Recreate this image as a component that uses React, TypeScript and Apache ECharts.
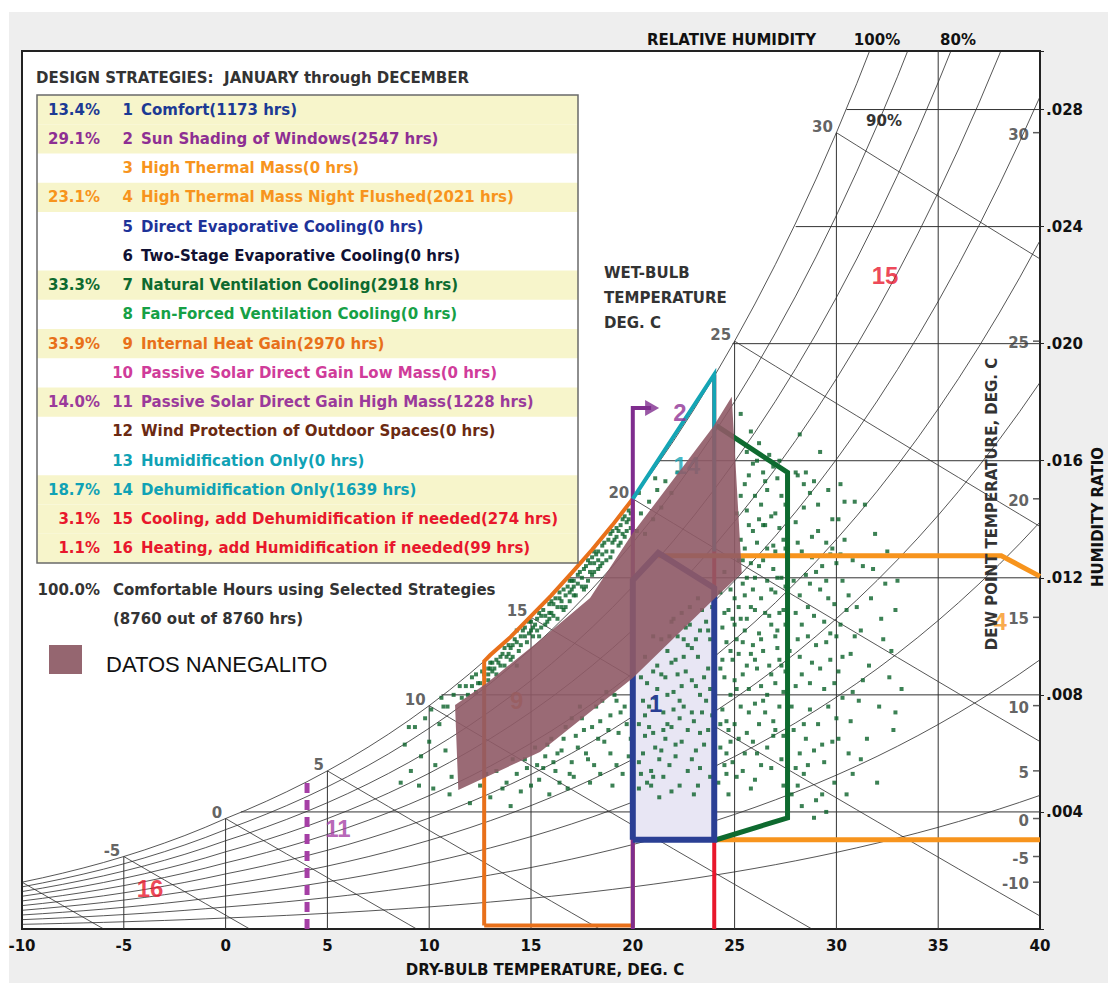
import { useEffect, useRef } from 'react';
import * as echarts from 'echarts';

// ---------- psychrometric grid (standard saturation table, kPa) ----------
const satTemps = [-10,-9,-8,-7,-6,-5,-4,-3,-2,-1,0,1,2,3,4,5,6,7,8,9,10,11,12,13,14,15,16,17,18,19,20,21,22,23,24,25,26,27,28,29,30,31,32,33,34,35,36,37,38,39,40];
const satPressureKPa = [0.2599,0.2839,0.3100,0.3382,0.3686,0.4018,0.4375,0.4763,0.5177,0.5627,0.6112,0.6571,0.7060,0.7581,0.8135,0.8726,0.9354,1.0021,1.0730,1.1482,1.2282,1.3129,1.4028,1.4981,1.5989,1.7057,1.8187,1.9383,2.0647,2.1982,2.3392,2.4881,2.6452,2.8109,2.9856,3.1697,3.3637,3.5679,3.7828,4.0089,4.2467,4.4966,4.7592,5.0351,5.3247,5.6286,5.9475,6.2818,6.6324,6.9997,7.3844];
const atmPressureKPa = 101.325;
const rhLevels = [0.1,0.2,0.3,0.4,0.5,0.6,0.7,0.8,0.9,1.0];
const wetBulbTemps = [-10,-5,0,5,10,15,20,25,30];
const wetBulbLabelTemps = [-5,0,5,10,15,20,25,30];
const dryBulbGridTemps = [-5,0,5,10,15,20,25,30,35];
const humidityGridValues = [4,8,12,16,20,24,28];
const humidityGridStartTemps = [0.75,10.6,16.8,21.2,24.9,28.0,30.5];
const dewPointTemps = [-10,-5,0,5,10,15,20,25,30];

// ---------- design strategy zones (T degC, W g/kg) ----------
const comfortT = [20, 20, 21.25, 24, 24];
const comfortW = [3.05, 11.92, 12.85, 11.65, 3.05];
const sunShadingPath = [[20, 0], [20, 17.8], [20.9, 17.8]];
const sunShadingArrow = [20.95, 17.8];
const internalGainPath = [[12.7, 0.12], [12.7, 9.15], [13, 9.36], [14, 9.98], [15, 10.69], [16, 11.4], [17, 12.17], [18, 12.96], [19, 13.8], [20, 14.7], [20, 0.12], [12.7, 0.12]];
const dehumidPath = [[20, 14.7], [24, 18.95], [24, 12.9]];
const coolingPath = [[24, 0], [24, 18.95]];
const naturalVentPath = [[24.1, 17.2], [27.6, 15.6], [27.6, 3.8], [24.1, 3.05]];
const thermalMassTopPath = [[21.25, 12.75], [38.1, 12.75], [40, 12.05]];
const thermalMassBottomPath = [[24, 3.05], [40, 3.05]];
const passiveSolarPath = [[4, 0], [4, 5.0]];

// ---------- climate overlay "DATOS NANEGALITO" ----------
const nanegalitoT = [11.43, 11.27, 12.82, 15.44, 17.90, 20.0, 23.94, 24.86, 25.35, 23.94, 20.0, 15.44];
const nanegalitoW = [4.75, 7.65, 8.40, 9.87, 11.31, 13.53, 17.15, 18.19, 12.16, 11.24, 8.58, 6.05];

// ---------- hourly weather points ----------
const hourlyPoints = [
  [8.8,6.3],[9.1,5.4],[9.3,6.9],[9.6,5.9],[9.8,7.2],[10.0,6.4],[10.1,7.5],[10.3,5.6],[10.5,7.0],[10.6,7.9],[10.8,6.1],[10.9,7.6],[11.1,5.2],[11.2,8.0],[9.0,6.9],[9.5,4.9],[10.2,4.8],[11.0,4.6],[11.5,8.3],[8.6,5.0],[10.7,7.6],
  [11.8,8.3],[12.1,8.6],[12.3,8.1],[12.6,8.8],[12.9,8.5],[13.1,9.1],[13.3,8.7],[13.5,9.3],[13.7,9.0],[13.9,9.7],[14.1,9.3],[14.2,9.9],[14.4,9.5],[14.6,10.2],[14.8,9.8],[15.0,10.5],[15.1,10.0],[15.3,10.6],[15.5,10.3],[15.6,10.9],[15.8,10.5],[16.0,11.2],[16.1,10.7],[16.3,11.0],[16.4,11.5],[16.6,10.9],[16.8,11.7],[16.9,11.2],[17.1,11.9],[17.2,11.4],[17.4,12.2],[17.5,11.7],[17.7,12.4],[17.8,11.9],[18.0,12.7],[18.1,12.2],[18.3,12.9],[18.4,12.4],[18.6,13.2],[18.7,12.6],[18.9,13.5],[19.0,12.9],[19.2,13.7],[19.3,13.1],[19.5,14.0],[19.6,13.4],[19.8,14.3],[19.9,13.7],[14.3,9.0],[15.4,10.0],[16.7,11.0],[17.6,11.6],[18.5,12.5],[19.4,13.2],[13.0,8.9],[12.4,8.4],[15.9,10.8],[17.0,11.6],[18.2,12.8],[19.7,13.9],
  [12.7,8.7],[12.9,8.9],[13.2,8.9],[13.4,9.1],[13.6,9.4],[13.8,9.3],[14.0,9.6],[14.3,9.8],[14.5,10.0],[14.7,10.3],[14.9,10.1],[15.2,10.4],[15.4,10.8],[15.7,10.7],[15.9,11.1],[16.2,11.3],[16.5,11.2],[16.6,11.6],[16.9,11.9],[17.1,11.7],[17.3,12.1],[17.6,12.3],[17.9,12.5],[18.1,12.9],[18.3,12.6],[18.5,13.1],[18.8,13.3],[19.0,13.6],[19.2,13.4],[19.4,13.8],[19.6,14.1],[19.8,14.0],
  [12.9,8.7],[13.1,8.8],[13.3,9.2],[13.5,9.0],[13.7,9.6],[13.9,9.4],[14.1,9.7],[14.3,10.2],[14.5,9.7],[14.7,10.0],[14.9,10.5],[15.1,10.3],[15.3,10.2],[15.5,10.7],[15.7,10.4],[15.9,10.6],[16.1,11.1],[16.3,10.6],[16.5,11.0],[16.7,11.4],[16.9,11.5],[17.1,11.4],[17.3,11.8],[17.5,12.0],[17.7,11.7],[17.9,12.2],[18.1,12.5],[18.3,12.3],[18.5,12.8],[18.7,12.9],[18.9,12.7],[19.1,13.3],[19.3,13.6],[19.5,13.5],[19.7,13.6],[19.9,14.2],[12.1,8.3],[12.3,8.7],[12.5,8.4],[11.9,8.0],[11.6,7.9],[13.0,9.1],[14.0,9.2],[15.0,10.2],[16.0,10.8],[17.0,11.9],[18.0,12.1],[19.0,13.2],[16.4,11.3],[17.8,12.6],
  [20.2,13.6],[20.4,14.2],[20.6,13.5],[20.8,14.6],[21.0,14.0],[21.2,15.0],[21.4,14.4],[21.6,15.3],[21.9,14.9],[22.2,15.6],[20.3,14.9],[21.1,15.4],
  [12.0,4.3],[12.5,4.9],[13.0,4.5],[13.3,5.4],[13.8,5.0],[14.1,5.8],[14.5,4.7],[14.8,5.5],[15.2,6.2],[15.4,5.1],[15.7,5.9],[16.0,6.5],[16.2,5.4],[16.5,6.1],[16.7,6.9],[17.0,5.7],[17.2,6.6],[17.5,7.2],[17.7,6.0],[18.0,6.9],[18.2,7.6],[18.4,5.3],[18.6,6.4],[18.9,7.3],[19.1,8.0],[19.3,6.7],[19.6,7.6],[19.8,5.9],[17.9,5.0],[16.8,4.8],[19.0,4.9],[15.9,4.6],[14.0,4.2],[18.7,8.1],[17.4,7.6],
  [12.8,5.3],[13.6,4.8],[14.3,5.3],[15.0,4.9],[15.6,5.5],[16.4,5.0],[17.1,5.2],[17.8,5.8],[18.3,6.5],[18.9,6.0],[19.5,5.3],[19.7,7.0],[19.2,7.8],[16.3,6.0],[14.7,5.8],
  [15.3,5.6],[15.8,6.3],[16.1,5.7],[16.6,6.5],[16.9,5.3],[17.3,6.2],[17.6,6.8],[18.1,5.6],[18.4,7.1],[18.8,6.8],[19.2,5.6],[19.4,7.4],[19.9,6.5],[17.0,7.2],[18.5,7.8],
  [20.3,4.8],[20.5,6.0],[20.6,7.3],[20.7,8.4],[20.9,5.4],[21.0,6.7],[21.1,7.9],[21.2,9.0],[21.3,4.5],[21.4,6.1],[21.5,7.4],[21.6,8.6],[21.7,9.5],[21.8,5.6],[21.9,6.9],[22.0,8.1],[22.1,9.2],[22.2,10.0],[22.3,4.9],[22.4,6.4],[22.5,7.6],[22.6,8.8],[22.7,9.7],[22.8,10.4],[22.9,5.8],[23.0,7.1],[23.1,8.3],[23.2,9.3],[23.3,10.2],[23.4,10.9],[23.5,6.3],[23.6,7.8],[23.7,8.9],[23.8,9.9],[23.9,11.0],[20.4,8.6],[20.8,6.9],[21.5,5.2],[22.1,5.9],[22.7,6.8],[23.3,5.5],[23.0,4.6],[22.5,9.9],[21.8,10.0],[23.6,10.5],[20.5,7.8],[21.2,8.2],[22.9,8.5],[23.4,7.4],[22.3,7.2],[21.7,7.0],[20.9,4.9],
  [20.6,9.3],[21.0,10.0],[21.4,9.9],[21.9,10.5],[22.4,10.8],[22.8,11.0],[23.2,11.3],[20.3,5.7],[20.7,5.0],[21.1,6.2],[21.6,6.5],[22.0,7.5],[22.4,8.3],[22.9,9.6],[23.3,8.0],[23.7,6.8],[23.8,5.2],[21.4,8.7],[22.2,8.7],[23.1,6.1],
  [20.4,5.3],[20.6,6.6],[20.8,7.6],[21.0,8.8],[21.3,5.8],[21.5,6.8],[21.7,8.0],[21.9,9.1],[22.1,6.3],[22.3,7.8],[22.5,9.3],[22.7,5.4],[22.9,7.4],[23.1,9.9],[23.3,6.7],[23.5,8.6],[23.7,10.2],[23.9,7.3],[20.3,7.0],[21.0,5.2],[21.9,4.7],[22.6,10.3],[23.2,4.9],[23.8,8.2],[22.0,10.6],
  [24.2,5.0],[24.3,6.2],[24.4,7.5],[24.5,8.6],[24.6,9.8],[24.7,10.9],[24.9,5.7],[25.0,7.0],[25.1,8.2],[25.2,9.4],[25.3,10.6],[25.4,11.8],[25.5,13.0],[25.6,14.3],[25.7,15.5],[25.8,4.8],[25.9,6.4],[26.0,7.7],[26.1,8.9],[26.2,10.1],[26.3,11.3],[26.4,12.6],[26.5,13.8],[26.6,15.0],[26.7,16.2],[26.8,5.5],[26.9,7.1],[27.0,8.4],[27.1,9.6],[27.2,10.8],[27.3,12.0],[27.4,13.3],[27.5,14.5],
  [25.0,11.3],[25.6,9.0],[25.8,11.0],[26.0,12.0],[26.3,14.5],[26.9,13.1],[27.1,15.4],[27.4,6.6],[24.8,8.0],[25.2,6.5],[25.7,7.4],[26.4,9.5],[26.6,6.2],[27.0,11.5],[27.3,9.0],[25.5,10.2],[26.1,16.0],[25.9,13.6],[26.8,10.4],[24.4,10.3],[24.9,9.2],[26.2,7.0],[27.5,11.7],[25.3,14.8],[26.5,10.8],[27.2,7.6],[24.7,6.8],[25.4,8.7],[26.0,5.1],[26.9,12.3],[25.6,16.3],[26.2,16.6],[25.8,17.0],[25.3,17.6],
  [24.3,11.5],[24.5,5.6],[24.6,7.1],[24.8,9.5],[25.0,10.4],[25.2,11.0],[25.4,12.6],[25.6,12.0],[25.5,6.0],[25.7,8.2],[25.9,9.7],[26.0,10.9],[26.1,13.2],[26.3,8.3],[26.4,15.6],[26.6,11.9],[26.7,9.0],[26.8,14.1],[27.0,6.8],[27.0,12.9],[27.1,10.2],[27.3,14.8],[27.4,8.1],[27.5,10.4],[24.3,8.9],[24.6,6.0],[25.1,9.9],[25.8,12.5],[26.5,7.4],[27.2,13.7],[26.2,14.0],[25.5,15.2],[26.9,15.8],[27.6,12.7],[27.7,9.5],
  [24.3,7.0],[24.4,9.2],[24.5,10.8],[24.6,5.3],[24.8,6.4],[24.9,10.6],[25.0,8.5],[25.1,5.2],[25.2,12.6],[25.3,7.6],[25.4,9.8],[25.5,11.4],[25.6,6.7],[25.7,13.8],[25.8,9.4],[25.9,11.6],[26.0,14.8],[26.1,6.0],[26.2,12.4],[26.3,9.9],[26.4,7.8],[26.5,15.3],[26.6,13.0],[26.7,10.7],[26.8,8.7],[26.9,6.6],[27.0,14.2],[27.1,12.0],[27.2,9.2],[27.3,5.8],[27.4,10.9],[27.5,13.0],[27.6,7.0],[24.5,12.2],[24.8,11.6],[25.3,13.3],[25.9,15.9],[26.4,13.8],[27.2,16.0],[26.0,9.2],[25.4,5.4],[26.6,8.0],[27.4,4.9],[24.7,4.6],[25.6,10.6],[26.3,5.6],[27.0,10.0],[25.1,14.2],[26.8,11.6],[27.5,8.8],
  [27.8,4.6],[27.9,6.8],[28.0,8.3],[28.1,9.9],[28.2,11.4],[28.3,12.9],[28.4,14.4],[28.5,15.6],[28.6,5.6],[28.7,7.5],[28.8,9.1],[28.9,10.7],[28.9,3.8],[29.0,12.2],[29.1,13.6],[29.2,16.3],[29.3,6.3],[29.4,8.2],[29.5,9.8],[29.6,11.3],[29.7,12.8],[29.8,14.0],[29.9,5.0],[30.0,7.2],[30.1,8.8],[30.2,10.4],[30.3,11.9],[30.4,13.3],[30.6,6.0],[30.7,9.4],[30.8,12.6],[30.9,14.6],[28.2,16.9],[28.9,15.3],[28.4,7.0],[29.0,4.4],[29.6,15.0],[30.5,4.6],[28.0,13.9],[29.4,10.5],[28.7,11.8],[30.0,12.5],[28.1,15.5],
  [28.0,10.8],[28.2,6.0],[28.3,8.7],[28.5,12.1],[28.6,10.0],[28.8,13.4],[29.1,7.0],[29.2,11.6],[29.5,13.2],[29.7,9.2],[29.9,11.1],[30.1,14.0],[30.3,7.9],[30.5,10.9],[30.8,8.1],[28.1,4.9],[28.4,5.3],[29.3,4.6],[28.7,14.9],[29.8,6.4],[30.2,15.2],
  [27.8,7.6],[27.9,11.9],[28.0,5.5],[28.1,13.2],[28.2,9.3],[28.3,10.4],[28.4,15.2],[28.5,6.5],[28.6,11.0],[28.7,8.4],[28.8,12.7],[28.9,6.1],[29.0,9.7],[29.1,14.5],[29.2,8.9],[29.3,12.4],[29.4,5.7],[29.5,11.9],[29.6,7.6],[29.7,10.1],[29.8,13.0],[29.9,8.4],[30.0,10.0],[30.1,6.5],[30.2,12.8],[30.3,9.3],[30.4,14.6],[30.6,11.4],[30.7,7.1],[30.9,10.0],[28.3,4.2],[29.5,4.0],[30.8,5.3],[28.0,15.6],
  [31.1,7.8],[31.2,10.2],[31.3,12.4],[31.5,6.5],[31.6,9.0],[31.7,11.3],[31.9,13.5],[32.0,5.0],[32.1,7.6],[32.3,9.9],[32.4,11.8],[32.6,8.6],[32.8,6.8],[32.9,10.9],[33.2,8.2],[32.9,7.4],[31.4,14.5],
  [31.0,11.0],[31.3,8.5],[31.8,12.3],[32.2,10.6],[32.5,12.9],[31.2,5.8],[32.7,9.5],[33.0,11.9]
];

// ---------- table legend ----------
const strategyPct = ['13.4%','29.1%','','23.1%','','','33.3%','','33.9%','','14.0%','','','18.7%','3.1%','1.1%'];
const strategyNames = [
  'Comfort(1173 hrs)','Sun Shading of Windows(2547 hrs)','High Thermal Mass(0 hrs)','High Thermal Mass Night Flushed(2021 hrs)',
  'Direct Evaporative Cooling(0 hrs)','Two-Stage Evaporative Cooling(0 hrs)','Natural Ventilation Cooling(2918 hrs)','Fan-Forced Ventilation Cooling(0 hrs)',
  'Internal Heat Gain(2970 hrs)','Passive Solar Direct Gain Low Mass(0 hrs)','Passive Solar Direct Gain High Mass(1228 hrs)','Wind Protection of Outdoor Spaces(0 hrs)',
  'Humidification Only(0 hrs)','Dehumidification Only(1639 hrs)','Cooling, add Dehumidification if needed(274 hrs)','Heating, add Humidification if needed(99 hrs)'
];
const strategyColors = ['#1c3a94','#8e2f93','#f7941d','#f7941d','#1e3399','#111133','#0e6a2f','#16a046','#e8701a','#d03c9a','#9b3a9b','#6b2a12','#10a2b5','#10a2b5','#e8172c','#e8172c'];

const FONT = '"DejaVu Sans", Verdana, sans-serif';
const FONT2 = '"Liberation Sans", Arial, sans-serif';

const hrFromP = (p: number) => (622 * p) / (atmPressureKPa - p);
const satHR = (t: number) => hrFromP(satPressureKPa[satTemps.indexOf(t)]);

function wetBulbLine(twb: number) {
  const ws = satHR(twb) / 1000;
  const pts: number[][] = [];
  for (const t of satTemps) {
    if (t < twb) continue;
    const w = ((2501 - 2.326 * twb) * ws - 1.006 * (t - twb)) / (2501 + 1.86 * t - 4.186 * twb);
    pts.push([t, w * 1000]);
    if (w < 0) break;
  }
  return pts;
}

function polySeries(id: string, T: number[], W: number[], fill: string, opacity: number, z: number) {
  return {
    type: 'custom', id, z, silent: true, clip: true,
    data: [[T[0], W[0]]],
    renderItem: (_p: any, api: any) => ({
      type: 'polygon',
      shape: { points: T.map((t, i) => api.coord([t, W[i]])) },
      style: { fill, opacity, stroke: 'none' },
    }),
  };
}

function lineSeries(data: number[][], color: string, width: number, z: number, type: any = 'solid') {
  return {
    type: 'line', data, z, silent: true, symbol: 'none', showSymbol: false, clip: true,
    lineStyle: { color, width, type, cap: 'butt', join: 'miter' }, animation: false,
  };
}

function buildGraphic() {
  const els: any[] = [];
  const L = 37, R = 578, top = 95, rh = 29.25;
  els.push({ type: 'rect', z: 100, shape: { x: L, y: top, width: R - L, height: rh * 16 }, style: { fill: '#ffffff' } });
  strategyPct.forEach((p, i) => {
    if (p) els.push({ type: 'rect', z: 101, shape: { x: L, y: top + i * rh, width: R - L, height: rh }, style: { fill: '#f7f5cb' } });
  });
  els.push({ type: 'rect', z: 104, shape: { x: L, y: top, width: R - L, height: rh * 16 }, style: { fill: 'none', stroke: '#6a6a6a', lineWidth: 1.5 } });
  strategyNames.forEach((n, i) => {
    const y = top + (i + 0.5) * rh;
    const c = strategyColors[i];
    const f = `bold 15px ${FONT}`;
    if (strategyPct[i]) els.push({ type: 'text', z: 105, x: 100, y, style: { text: strategyPct[i], fill: c, font: f, align: 'right', verticalAlign: 'middle' } });
    els.push({ type: 'text', z: 105, x: 133, y, style: { text: String(i + 1), fill: c, font: f, align: 'right', verticalAlign: 'middle' } });
    els.push({ type: 'text', z: 105, x: 141, y, style: { text: n, fill: c, font: f, align: 'left', verticalAlign: 'middle' } });
  });
  const dark = '#333333';
  const bf = `bold 15px ${FONT}`;
  els.push({ type: 'text', z: 105, x: 36, y: 78, style: { text: 'DESIGN STRATEGIES:  JANUARY through DECEMBER', fill: dark, font: bf, align: 'left', verticalAlign: 'middle' } });
  els.push({ type: 'text', z: 105, x: 100, y: 590, style: { text: '100.0%', fill: dark, font: bf, align: 'right', verticalAlign: 'middle' } });
  els.push({ type: 'text', z: 105, x: 113, y: 590, style: { text: 'Comfortable Hours using Selected Strategies', fill: dark, font: bf, align: 'left', verticalAlign: 'middle' } });
  els.push({ type: 'text', z: 105, x: 113, y: 619, style: { text: '(8760 out of 8760 hrs)', fill: dark, font: bf, align: 'left', verticalAlign: 'middle' } });
  els.push({ type: 'rect', z: 105, shape: { x: 49, y: 645, width: 33, height: 29 }, style: { fill: '#956670' } });
  els.push({ type: 'text', z: 105, x: 106, y: 664, style: { text: 'DATOS NANEGALITO', fill: '#111', font: `22px ${FONT2}`, align: 'left', verticalAlign: 'middle' } });
  els.push({ type: 'text', z: 105, x: 647, y: 40, style: { text: 'RELATIVE HUMIDITY', fill: '#111', font: bf, align: 'left', verticalAlign: 'middle' } });
  els.push({ type: 'text', z: 105, x: 877, y: 40, style: { text: '100%', fill: '#111', font: bf, align: 'center', verticalAlign: 'middle' } });
  els.push({ type: 'text', z: 105, x: 958, y: 40, style: { text: '80%', fill: '#111', font: bf, align: 'center', verticalAlign: 'middle' } });
  els.push({ type: 'text', z: 105, x: 884, y: 121, style: { text: '90%', fill: '#333', font: bf, align: 'center', verticalAlign: 'middle' } });
  ['WET-BULB', 'TEMPERATURE', 'DEG. C'].forEach((t, i) => {
    els.push({ type: 'text', z: 105, x: 604, y: 273 + i * 25, style: { text: t, fill: '#333', font: bf, align: 'left', verticalAlign: 'middle' } });
  });
  els.push({ type: 'text', z: 105, x: 545, y: 970, style: { text: 'DRY-BULB TEMPERATURE, DEG. C', fill: '#111', font: bf, align: 'center', verticalAlign: 'middle' } });
  els.push({ type: 'text', z: 105, x: 1098, y: 517, rotation: Math.PI / 2, style: { text: 'HUMIDITY RATIO', fill: '#111', font: bf, align: 'center', verticalAlign: 'middle' } });
  els.push({ type: 'text', z: 105, x: 992, y: 504, rotation: Math.PI / 2, style: { text: 'DEW POINT TEMPERATURE, DEG. C', fill: '#333', font: bf, align: 'center', verticalAlign: 'middle' } });
  return els;
}

function buildOption() {
  const gridColor = '#2b2b2b';
  const series: any[] = [];
  rhLevels.forEach((phi) => {
    series.push(lineSeries(satTemps.map((t, i) => [t, hrFromP(phi * satPressureKPa[i])]), gridColor, 0.8, 1));
  });
  wetBulbTemps.forEach((twb) => series.push(lineSeries(wetBulbLine(twb), gridColor, 0.8, 1)));
  dryBulbGridTemps.forEach((t) => series.push(lineSeries([[t, 0], [t, satHR(t)]], '#333', 1, 1)));
  humidityGridValues.forEach((w, i) => series.push(lineSeries([[humidityGridStartTemps[i], w], [40, w]], '#333', 1, 1)));

  series.push(polySeries('comfortFill', comfortT, comfortW, '#e8e6f4', 1, 2));
  series.push({
    type: 'scatter', z: 3, silent: true, symbolSize: 1, itemStyle: { color: 'transparent' },
    data: [{ name: '1', value: [21.12, 7.72] }],
    label: { show: true, position: 'inside', formatter: '{b}', color: '#2a3f94', opacity: 1, fontSize: 24, fontWeight: 'bold', fontFamily: FONT2 },
  });
  series.push({
    type: 'scatter', z: 3, silent: true, symbol: 'rect', symbolSize: 4,
    itemStyle: { color: '#0a6229' }, data: hourlyPoints,
  });
  series.push(lineSeries(coolingPath, '#e8172c', 4, 4));
  series.push(lineSeries(internalGainPath, '#e8701a', 4, 4));
  series.push(lineSeries(thermalMassTopPath, '#f7941d', 5, 4));
  series.push(lineSeries(thermalMassBottomPath, '#f7941d', 5, 4));
  series.push(lineSeries(naturalVentPath, '#0e6a2f', 5, 4));
  series.push(lineSeries(passiveSolarPath, '#a53fa5', 5, 4, [10, 7]));
  series.push(lineSeries(sunShadingPath, '#7f2d8e', 4, 4));
  series.push(lineSeries(comfortT.map((t, i) => [t, comfortW[i]]).concat([[comfortT[0], comfortW[0]]]), '#2a3f94', 6, 5));
  series.push(lineSeries(dehumidPath, '#14a5b5', 4, 5));
  series.push({
    type: 'scatter', z: 6, silent: true, symbol: 'triangle', symbolSize: [16, 14], symbolRotate: -90,
    itemStyle: { color: '#7f2d8e' }, data: [sunShadingArrow],
  });
  series.push({
    type: 'scatter', z: 7, silent: true, symbolSize: 1, itemStyle: { color: 'transparent' },
    data: [
      { name: '9', value: [14.3, 7.82], label: { color: '#e8701a' } },
      { name: '14', value: [22.65, 15.85], label: { color: '#14a5b5' } },
    ],
    label: { show: true, position: 'inside', formatter: '{b}', fontSize: 24, fontWeight: 'bold', fontFamily: FONT2 },
  });
  series.push(polySeries('nanegalito', nanegalitoT, nanegalitoW, '#8f5a66', 0.9, 8));
  series.push({
    type: 'scatter', z: 9, silent: true, symbolSize: 1, itemStyle: { color: 'transparent' },
    data: [
      { name: '2', value: [22.32, 17.66], label: { color: '#8e2f93' } },
      { name: '4', value: [38.04, 10.49], label: { color: '#f7941d' } },
      { name: '15', value: [32.39, 22.34], label: { color: '#e8172c' } },
      { name: '16', value: [-3.71, 1.40], label: { color: '#e8172c' } },
      { name: '11', value: [5.52, 3.45], label: { color: '#a53fa5' } },
    ],
    label: { show: true, position: 'inside', formatter: '{b}', fontSize: 24, fontWeight: 'bold', fontFamily: FONT2 },
  });
  series.push({
    type: 'scatter', z: 9, silent: true, symbolSize: 1, itemStyle: { color: 'transparent' },
    data: wetBulbLabelTemps.map((t) => ({ name: String(t), value: [t, satHR(t)] })),
    label: { show: true, position: 'left', distance: 3, offset: [0, -6], formatter: '{b}', color: '#3a3a3a', fontSize: 15, fontWeight: 'bold', fontFamily: FONT },
  });
  series.push({
    type: 'scatter', z: 9, silent: true, symbol: 'rect', symbolSize: [7, 1.5], symbolOffset: [-3.5, 0],
    itemStyle: { color: '#333' },
    data: dewPointTemps.map((t) => ({ name: String(t), value: [40, satHR(t)] })),
    label: { show: true, position: 'left', distance: 4, offset: [0, 2], formatter: '{b}', color: '#3a3a3a', fontSize: 15, fontWeight: 'bold', fontFamily: FONT },
  });

  return {
    animation: false,
    backgroundColor: 'transparent',
    textStyle: { fontFamily: FONT },
    grid: { left: 22, right: 68, top: 51, bottom: 54, show: true, backgroundColor: '#ffffff', borderColor: '#222', borderWidth: 2 },
    xAxis: {
      type: 'value', min: -10, max: 40, interval: 5,
      axisLine: { show: true, onZero: false, lineStyle: { color: '#222', width: 2 } },
      axisTick: { show: false }, splitLine: { show: false },
      axisLabel: { color: '#111', fontSize: 15, fontWeight: 'bold', fontFamily: FONT, margin: 9 },
    },
    yAxis: {
      type: 'value', min: 0, max: 30, interval: 4, position: 'right',
      axisLine: { show: true, onZero: false, lineStyle: { color: '#222', width: 2 } },
      axisTick: { show: true, length: 4, lineStyle: { color: '#222' } }, splitLine: { show: false },
      axisLabel: {
        color: '#111', fontSize: 15, fontWeight: 'bold', fontFamily: FONT, margin: 6,
        formatter: (v: number) => (v > 0 && v % 4 === 0 ? '.' + String(v).padStart(3, '0') : ''),
      },
    },
    graphic: buildGraphic(),
    series,
  };
}

export default function App() {
  const ref = useRef<HTMLDivElement>(null);
  useEffect(() => {
    if (!ref.current) return;
    const chart = echarts.init(ref.current, undefined, { renderer: 'svg' });
    chart.setOption(buildOption() as any);
    return () => chart.dispose();
  }, []);
  return (
    <div style={{ position: 'fixed', left: 0, top: 0, width: 1108, height: 983, background: '#ffffff' }}>
      <div style={{ position: 'absolute', left: 9, top: 12, width: 1099, height: 971, background: '#eeeeee' }} />
      <div ref={ref} style={{ position: 'absolute', left: 0, top: 0, width: 1108, height: 983 }} />
    </div>
  );
}
